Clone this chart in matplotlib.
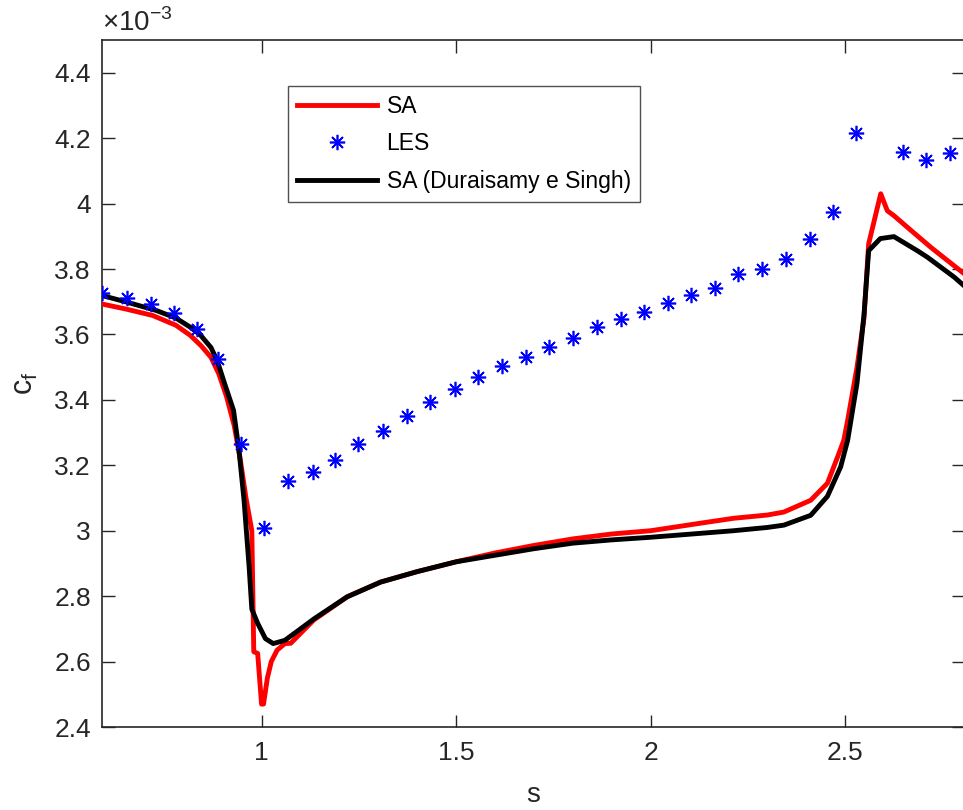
import matplotlib
matplotlib.use("Agg")
import matplotlib.pyplot as plt
from matplotlib.ticker import FuncFormatter, FixedLocator

# values in units of 1e-3
sa_x = [0.59, 0.65, 0.72, 0.78, 0.817, 0.845, 0.87, 0.89, 0.91, 0.93, 0.945, 0.96, 0.975,
        0.98, 0.99, 1.0, 1.005, 1.015, 1.025, 1.04, 1.06, 1.075, 1.134, 1.22, 1.306,
        1.4, 1.5, 1.6, 1.7, 1.8, 1.9, 2.0, 2.128, 2.213, 2.3, 2.342, 2.411, 2.454, 2.48,
        2.496, 2.506, 2.53, 2.548, 2.56, 2.591, 2.608, 2.625, 2.66, 2.72, 2.805]
sa_y = [3.693, 3.678, 3.658, 3.628, 3.597, 3.565, 3.53, 3.48, 3.41, 3.32, 3.22, 3.1, 3.0,
        2.63, 2.625, 2.47, 2.47, 2.55, 2.6, 2.635, 2.655, 2.656, 2.727, 2.798, 2.843,
        2.875, 2.905, 2.932, 2.955, 2.975, 2.99, 3.0, 3.023, 3.038, 3.048, 3.057, 3.093, 3.145, 3.225,
        3.276, 3.337, 3.499, 3.65, 3.877, 4.03, 3.978, 3.963, 3.927, 3.866, 3.786]

dur_x = [0.59, 0.65, 0.73, 0.78, 0.817, 0.843, 0.87, 0.886, 0.905, 0.928, 0.942, 0.955,
         0.968, 0.975, 0.99, 1.01, 1.03, 1.06, 1.1, 1.134, 1.22, 1.306, 1.4, 1.5, 1.6,
         1.7, 1.8, 1.9, 2.0, 2.128, 2.213, 2.3, 2.342, 2.411, 2.454, 2.488, 2.506, 2.53,
         2.548, 2.56, 2.59, 2.625, 2.685, 2.711, 2.78, 2.805]
dur_y = [3.719, 3.70, 3.673, 3.65, 3.622, 3.598, 3.56, 3.52, 3.45, 3.368, 3.246, 3.093,
         2.89, 2.76, 2.717, 2.67, 2.655, 2.665, 2.7, 2.73, 2.798, 2.843, 2.875, 2.905, 2.925,
         2.945, 2.962, 2.972, 2.98, 2.992, 3.0, 3.01, 3.017, 3.047, 3.105, 3.195, 3.276, 3.45,
         3.66, 3.856, 3.893, 3.899, 3.856, 3.836, 3.775, 3.749]

les_x = [0.591, 0.653, 0.715, 0.776, 0.835, 0.889, 0.946, 1.005, 1.069, 1.131, 1.190,
         1.249, 1.311, 1.373, 1.434, 1.496, 1.555, 1.617, 1.679, 1.738, 1.799, 1.861,
         1.923, 1.982, 2.044, 2.103, 2.165, 2.224, 2.285, 2.347, 2.409, 2.468, 2.527,
         2.648, 2.707, 2.769]
les_y = [3.728, 3.71, 3.694, 3.664, 3.618, 3.526, 3.264, 3.007, 3.151, 3.178, 3.215,
         3.264, 3.304, 3.352, 3.392, 3.432, 3.471, 3.502, 3.532, 3.563, 3.590, 3.624,
         3.648, 3.670, 3.697, 3.722, 3.743, 3.786, 3.801, 3.832, 3.893, 3.975, 4.216,
         4.158, 4.134, 4.155]

x_ticks = [1, 1.5, 2, 2.5]
y_ticks = [2.4, 2.6, 2.8, 3.0, 3.2, 3.4, 3.6, 3.8, 4.0, 4.2, 4.4]

plt.rcParams['font.family'] = ['Liberation Sans', 'DejaVu Sans']
plt.rcParams['mathtext.fontset'] = 'custom'
plt.rcParams['mathtext.rm'] = 'Liberation Sans'
gray = '#262626'

fig = plt.figure(figsize=(9.63, 8.10), dpi=100)
ax = fig.add_axes([102/963, 83/810, (964-102)/963, (727-40)/810])

ax.plot(sa_x, sa_y, color='red', lw=3.5, label='SA', zorder=3)
ax.plot(les_x, les_y, linestyle='none', marker=(8, 2, 0), markersize=11,
        markeredgewidth=1.2, color='blue', label='LES', zorder=4)
ax.plot(dur_x, dur_y, color='black', lw=3.5, label='SA (Duraisamy e Singh)', zorder=3)

ax.set_xlim(0.59, 2.805)
ax.set_ylim(2.4, 4.5)
ax.xaxis.set_major_locator(FixedLocator(x_ticks))
ax.yaxis.set_major_locator(FixedLocator(y_ticks))
ax.xaxis.set_major_formatter(FuncFormatter(lambda v, p: '%g' % v))
ax.yaxis.set_major_formatter(FuncFormatter(lambda v, p: '%g' % round(v, 3)))
ax.tick_params(direction='in', length=9, width=1, colors=gray, labelsize=19,
               top=True, right=True, pad=10)
ax.tick_params(axis='y', pad=8)
for s in ax.spines.values():
    s.set_color(gray)
    s.set_linewidth(1.2)

ax.set_xlabel('s', fontsize=20, color=gray, labelpad=12)
ax.set_ylabel(r'c$_\mathregular{f}$', fontsize=22, color=gray, labelpad=10)

ax.text(0.0, 1.004, r'$\times$10$^{\mathregular{-3}}$', transform=ax.transAxes,
        fontsize=20, color=gray, ha='left', va='bottom')

leg = ax.legend(loc='upper left', bbox_to_anchor=((288-102)/862, (727-86)/687),
                fontsize=16.5, frameon=True, fancybox=False, edgecolor=gray,
                handlelength=3.5, borderpad=0.4, labelspacing=0.62, handletextpad=0.4,
                borderaxespad=0)
leg.get_frame().set_linewidth(1.0)

fig.savefig('out.png', dpi=100)
